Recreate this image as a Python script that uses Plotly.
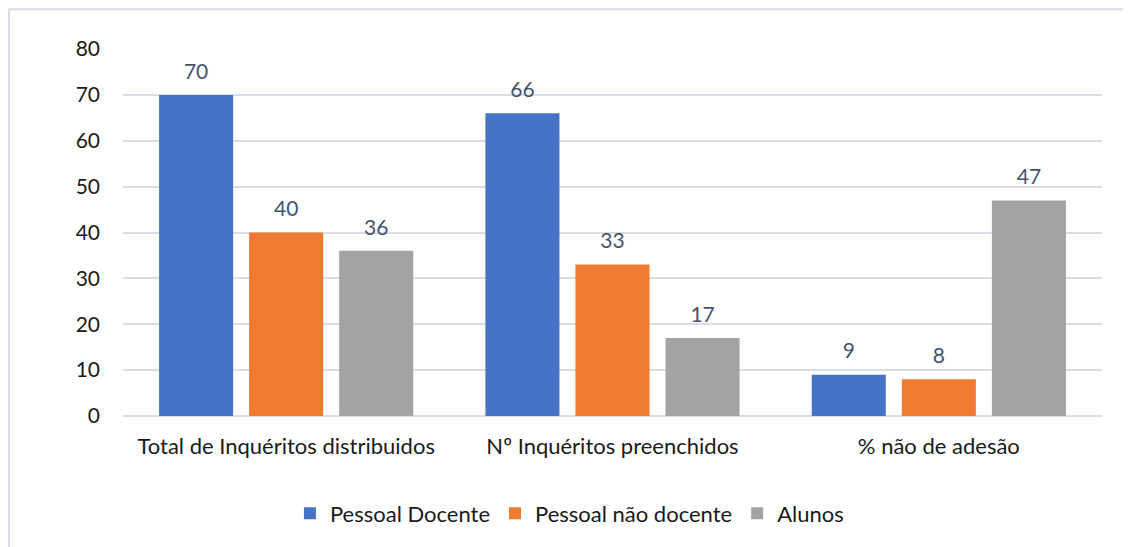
import plotly.graph_objects as go

categories = ["Total de Inquéritos distribuidos", "Nº Inquéritos preenchidos", "% não de adesão"]
series_names = ["Pessoal Docente", "Pessoal não docente", "Alunos"]
docente = [70, 66, 9]
nao_docente = [40, 33, 8]
alunos = [36, 17, 47]
y_ticks = [0, 10, 20, 30, 40, 50, 60, 70, 80]

colors = ["#4673C6", "#EE7B30", "#A3A3A3"]
FONT = "Lato, Calibri, 'Open Sans', sans-serif"

fig = go.Figure()
all_vals = [docente, nao_docente, alunos]
for i, (name, vals, col) in enumerate(zip(series_names, all_vals, colors)):
    fig.add_trace(go.Bar(
        x=categories, y=vals, name=name, offsetgroup=str(i),
        marker=dict(color=col, line=dict(width=0)),
        hoverinfo="y",
    ))
for i, (name, vals) in enumerate(zip(series_names, all_vals)):
    fig.add_trace(go.Scatter(
        x=categories, y=vals, mode="markers+text", offsetgroup=str(i),
        marker=dict(size=16, opacity=0), showlegend=False,
        text=[str(v) for v in vals], textposition="top center",
        textfont=dict(family=FONT, size=21, color="#44546A"),
        cliponaxis=False, hoverinfo="skip",
    ))

# page has an 8px body margin, so figure pixels = screen pixels - 8
W, H = 1123, 539
L, R, T, B = 115, 29, 41, 129
pw, ph = W - L - R, H - T - B

def px_x(p):
    return (p - L) / pw

def px_y(p):
    return (H - B - p) / ph

fig.update_layout(
    width=W, height=H,
    margin=dict(l=L, r=R, t=T, b=B),
    paper_bgcolor="white", plot_bgcolor="white",
    barmode="group", bargap=0.172, bargroupgap=0.178,
    scattermode="group", scattergap=0.172,
    font=dict(family=FONT, size=21, color="#1a1a1a"),
    showlegend=True,
    legend=dict(orientation="h", x=0.456, xanchor="center", y=px_y(508), yanchor="middle",
                font=dict(family=FONT, size=22, color="#1a1a1a"),
                itemwidth=30, tracegroupgap=0, traceorder="normal"),
    xaxis=dict(showgrid=False, showline=False, ticks="", ticklabelstandoff=15,
               tickfont=dict(family=FONT, size=22, color="#1a1a1a")),
    yaxis=dict(range=[0, 80], tickvals=y_ticks, showgrid=True, gridcolor="#D9DEE5", gridwidth=1.5,
               zeroline=True, zerolinecolor="#D9DEE5", zerolinewidth=1.5, showline=False, ticks="",
               ticklabelstandoff=22, tickfont=dict(family=FONT, size=21, color="#1a1a1a")),
    shapes=[
        dict(type="rect", xref="paper", yref="paper",
             x0=px_x(1), x1=px_x(1160), y0=px_y(1), y1=px_y(580),
             line=dict(color="#D9DEE5", width=2), fillcolor="rgba(0,0,0,0)", layer="below"),
    ],
)

fig.write_html("out.html")
